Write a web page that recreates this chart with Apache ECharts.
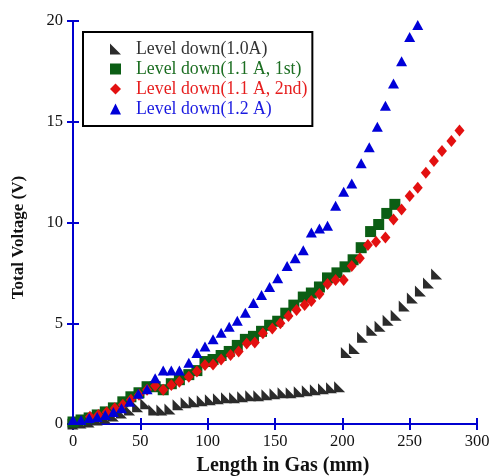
<!DOCTYPE html>
<html>
<head>
<meta charset="utf-8">
<script src="https://cdn.jsdelivr.net/npm/echarts@6/dist/echarts.min.js"></script>
<style>
html,body{margin:0;padding:0;background:#fff;}
#chart{width:493px;height:476px;}
</style>
</head>
<body>
<div id="chart"></div>
<script>
// Data (Length in Gas mm, Total Voltage V)
var seriesNames = ["Level down(1.0A)", "Level down(1.1 A, 1st)", "Level down(1.1 A, 2nd)", "Level down(1.2 A)"];

var x10 = [0, 6, 12, 18, 24, 30, 36, 42, 48, 54, 60, 66, 72, 78, 84, 90, 96, 102, 108, 114, 120, 126, 132, 138, 144, 150, 156, 162, 168, 174, 180, 186, 192, 198,
           203, 209, 215, 222, 228, 234, 240, 246, 252, 258, 264, 270];
var y10 = [0.0, 0.05, 0.1, 0.2, 0.3, 0.4, 0.55, 0.7, 0.85, 1.0, 0.7, 0.7, 0.75, 0.95, 1.05, 1.1, 1.15, 1.2, 1.25, 1.3, 1.3, 1.35, 1.4, 1.4, 1.45, 1.5, 1.55, 1.55, 1.6, 1.65, 1.7, 1.75, 1.8, 1.85,
           3.55, 3.75, 4.3, 4.65, 4.85, 5.15, 5.4, 5.85, 6.25, 6.6, 7.0, 7.45];

var x11a = [0, 6, 12, 18, 24, 30, 37, 43, 49, 55, 61, 67, 73, 79, 86, 92, 98, 104, 110, 116, 122, 128, 134, 140, 146, 152, 158, 164, 171, 177, 183, 189, 196, 202, 208, 214, 221, 227, 233, 239];
var y11a = [0.1, 0.2, 0.3, 0.45, 0.6, 0.8, 1.1, 1.35, 1.55, 1.85, 1.85, 1.7, 2.0, 2.2, 2.45, 2.65, 3.1, 3.2, 3.4, 3.6, 3.9, 4.2, 4.35, 4.6, 4.9, 5.1, 5.5, 5.9, 6.3, 6.5, 6.8, 7.25, 7.5, 7.8, 8.15, 8.75, 9.55, 9.9, 10.45, 10.9];

var x11b = [12.6, 18.8, 25, 31, 37, 43, 49, 55, 61, 67, 73, 79, 86, 92, 98, 104, 110, 117, 123, 129, 135, 141, 148, 154, 160, 166, 172, 177, 183, 189, 195, 201, 207, 213, 219, 225, 232, 238, 244, 250, 256, 262, 268, 274, 281, 287];
var y11b = [0.36, 0.45, 0.58, 0.78, 0.95, 1.2, 1.45, 1.7, 1.9, 1.7, 1.94, 2.1, 2.35, 2.6, 2.93, 2.95, 3.2, 3.42, 3.6, 4.0, 4.05, 4.5, 4.74, 5.0, 5.36, 5.66, 5.9, 6.1, 6.45, 6.95, 7.15, 7.15, 7.84, 8.22, 8.88, 9.05, 9.25, 10.15, 10.65, 11.32, 11.73, 12.47, 13.05, 13.55, 14.04, 14.56];

var x12 = [0, 6, 12, 18, 24, 30, 36, 42, 48.5, 55, 61, 67, 73, 79, 86, 92, 98, 104, 110, 116, 122, 128, 134, 140, 146, 152, 159, 165, 171, 177, 183, 189, 195, 201, 207, 214, 220, 226, 232, 238, 244, 250, 256];
var y12 = [0.2, 0.2, 0.3, 0.35, 0.45, 0.6, 0.78, 1.1, 1.5, 1.72, 2.27, 2.65, 2.65, 2.65, 3.04, 3.52, 3.84, 4.2, 4.53, 4.83, 5.13, 5.52, 6.0, 6.4, 6.8, 7.23, 7.84, 8.22, 8.62, 9.5, 9.7, 9.84, 10.83, 11.53, 11.94, 12.94, 13.73, 14.75, 15.8, 16.9, 18.0, 19.2, 19.8];

var xTicks = [0, 50, 100, 150, 200, 250, 300];
var yTicks = [0, 5, 10, 15, 20];

function pairs(xs, ys) { return xs.map(function (v, i) { return [v, ys[i]]; }); }

var markerColors = ["#2b2b2b", "#0b5e14", "#e31010", "#0000d8"];
var textColors = ["#333333", "#1c6e22", "#e61e1e", "#1a1ae0"];
var symbols = ["path://M0,0 L0,10 L10,10 Z", "rect", "diamond", "triangle"];
var sizes = [[11, 11], [11, 11], [10, 12], [11, 10]];
var datasets = [pairs(x10, y10), pairs(x11a, y11a), pairs(x11b, y11b), pairs(x12, y12)];

var axisBlue = "#0000d0";
var font = "Liberation Serif";

var chart = echarts.init(document.getElementById('chart'), null, {renderer: 'canvas'});

var commonAxisLine = {show: true, lineStyle: {color: axisBlue, width: 2}};
var commonTick = {show: true, inside: true, length: 6, lineStyle: {color: axisBlue, width: 2}};

var option = {
  animation: false,
  backgroundColor: '#ffffff',
  grid: {left: 73, right: 16, top: 21, bottom: 52, containLabel: false, outerBoundsMode: 'none'},
  xAxis: [{
    type: 'value', min: 0, max: 300, interval: 50, position: 'bottom',
    axisLine: commonAxisLine, axisTick: commonTick, splitLine: {show: false},
    axisLabel: {fontFamily: font, fontSize: 16.5, color: '#111', margin: 9,
      formatter: function (v) { return xTicks.indexOf(v) >= 0 ? String(v) : ''; }},
    name: 'Length in Gas (mm)', nameLocation: 'middle', nameGap: 32,
    nameTextStyle: {fontFamily: font, fontSize: 20, fontWeight: 'bold', color: '#111', padding: [0, 0, 0, 16]}
  }, {
    type: 'value', min: 0, max: 300, interval: 50, position: 'top',
    axisLine: commonAxisLine, axisTick: commonTick, splitLine: {show: false},
    axisLabel: {show: false}
  }],
  yAxis: [{
    type: 'value', min: 0, max: 20, interval: 5, position: 'left',
    axisLine: commonAxisLine, axisTick: commonTick, splitLine: {show: false},
    axisLabel: {fontFamily: font, fontSize: 16.5, color: '#111', margin: 10,
      formatter: function (v) { return yTicks.indexOf(v) >= 0 ? String(v) : ''; }},
    name: 'Total Voltage (V)', nameLocation: 'middle', nameGap: 46, nameRotate: 90,
    nameTextStyle: {fontFamily: font, fontSize: 17, fontWeight: 'bold', color: '#111', padding: [0, 30, 0, 0]}
  }, {
    type: 'value', min: 0, max: 20, interval: 5, position: 'right',
    axisLine: commonAxisLine, axisTick: commonTick, splitLine: {show: false},
    axisLabel: {show: false}
  }],
  legend: {
    orient: 'vertical', left: 83, top: 32,
    backgroundColor: '#ffffff',
    borderColor: '#000', borderWidth: 2,
    padding: [8, 5, 8, 27],
    itemWidth: 11, itemHeight: 11, itemGap: 2,
    symbolKeepAspect: true,
    textStyle: {fontFamily: font, fontSize: 17.8, lineHeight: 18, padding: [0, 0, 0, 10]},
    data: seriesNames.map(function (n, i) {
      return {name: n, textStyle: {color: textColors[i]}};
    })
  },
  series: seriesNames.map(function (n, i) {
    return {
      name: n, type: 'scatter', xAxisIndex: 0, yAxisIndex: 0,
      symbol: symbols[i], symbolSize: sizes[i],
      itemStyle: {color: markerColors[i], opacity: 1},
      data: datasets[i], z: 2 + i
    };
  })
};
chart.setOption(option);
</script>
</body>
</html>
